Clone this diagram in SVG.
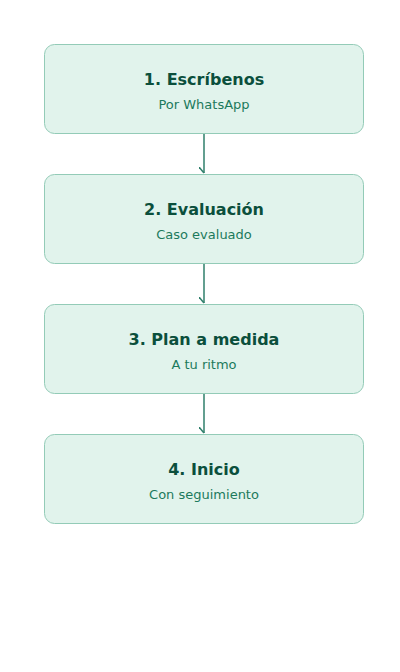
<svg xmlns="http://www.w3.org/2000/svg" width="400" height="672" viewBox="0 0 400 672">
<defs>
<style>
.box{fill:#e1f3ec;stroke:#93cbb7;stroke-width:1}
.t{font-family:"DejaVu Sans",sans-serif;font-size:16px;font-weight:bold;fill:#0b4f3c;text-anchor:middle}
.s{font-family:"DejaVu Sans",sans-serif;font-size:13px;fill:#1c7a5c;text-anchor:middle}
.c{stroke:#2f7f6b;stroke-width:1.5;fill:none}
</style>
<marker id="ah" markerWidth="10" markerHeight="10" refX="6" refY="5" orient="auto" markerUnits="userSpaceOnUse">
<path d="M0,10 L6,5" stroke="#2f7f6b" stroke-width="1.5" fill="none"/>
</marker>
</defs>
<rect width="400" height="672" fill="#ffffff"/>
<g id="connectors">
<path class="c" d="M204,134 V173" marker-end="url(#ah)"/>
<path class="c" d="M204,264 V303" marker-end="url(#ah)"/>
<path class="c" d="M204,394 V433" marker-end="url(#ah)"/>
</g>
<g id="n1"><rect class="box" x="44.5" y="44.5" width="319" height="89" rx="10"/><text class="t" x="204" y="85">1. Escríbenos</text><text class="s" x="204" y="109">Por WhatsApp</text></g>
<g id="n2"><rect class="box" x="44.5" y="174.5" width="319" height="89" rx="10"/><text class="t" x="204" y="215">2. Evaluación</text><text class="s" x="204" y="239">Caso evaluado</text></g>
<g id="n3"><rect class="box" x="44.5" y="304.5" width="319" height="89" rx="10"/><text class="t" x="204" y="345">3. Plan a medida</text><text class="s" x="204" y="369">A tu ritmo</text></g>
<g id="n4"><rect class="box" x="44.5" y="434.5" width="319" height="89" rx="10"/><text class="t" x="204" y="475">4. Inicio</text><text class="s" x="204" y="499">Con seguimiento</text></g>
</svg>
